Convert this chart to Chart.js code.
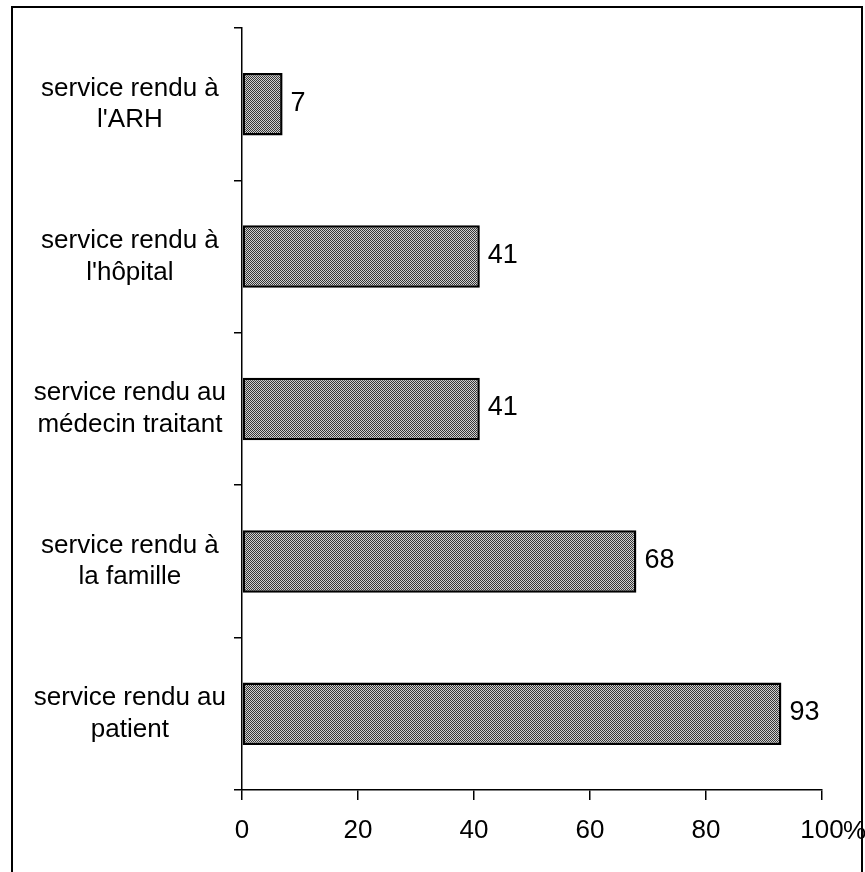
<!DOCTYPE html>
<html>
<head>
<meta charset="utf-8">
<script src="https://cdn.jsdelivr.net/npm/chart.js@4/dist/chart.umd.min.js"></script>
<style>
  html, body { margin: 0; padding: 0; background: #fff; }
  canvas { display: block; }
</style>
</head>
<body>
<canvas id="chart" width="865" height="872"></canvas>
<script>
// Services rendus (en %)
const categories = [
  ['service rendu à', "l'ARH"],
  ['service rendu à', "l'hôpital"],
  ['service rendu au', 'médecin traitant'],
  ['service rendu à', 'la famille'],
  ['service rendu au', 'patient'],
];
const values = [7, 41, 41, 68, 93];
const xTicks = [0, 20, 40, 60, 80, 100];

const FONT = '"Liberation Sans", Arial, sans-serif';

// dithered grey fill like the scanned original
function makePattern() {
  const c = document.createElement('canvas');
  c.width = 4; c.height = 4;
  const g = c.getContext('2d');
  g.fillStyle = '#d0d0d0';
  g.fillRect(0, 0, 4, 4);
  g.fillStyle = '#363636';
  for (let y = 0; y < 4; y++) {
    for (let x = 0; x < 4; x++) {
      if ((x + y) % 2 === 0) g.fillRect(x, y, 1, 1);
    }
  }
  return g.createPattern(c, 'repeat');
}

const extras = {
  id: 'extras',
  afterDraw(chart) {
    const ctx = chart.ctx;
    const meta = chart.getDatasetMeta(0);
    ctx.save();
    ctx.fillStyle = '#000';
    ctx.font = '27px ' + FONT;
    ctx.textAlign = 'left';
    ctx.textBaseline = 'middle';
    meta.data.forEach((bar, i) => {
      ctx.fillText(String(values[i]), bar.x + 8, bar.y - 1);
    });
    // "%" after the last tick label
    const xs = chart.scales.x;
    ctx.font = '26px ' + FONT;
    ctx.fillText('%', xs.getPixelForValue(100) + 21, 832);
    // frame round the figure
    ctx.strokeStyle = '#000';
    ctx.lineWidth = 2;
    ctx.strokeRect(12, 7, 850, 880);
    ctx.restore();
  },
};

new Chart(document.getElementById('chart').getContext('2d'), {
  type: 'bar',
  data: {
    labels: categories,
    datasets: [{
      data: values,
      backgroundColor: makePattern(),
      borderColor: '#000',
      borderWidth: 2.5,
      borderSkipped: false,
      barPercentage: 0.41,
      categoryPercentage: 1,
    }],
  },
  options: {
    indexAxis: 'y',
    responsive: false,
    animation: false,
    layout: { padding: { left: 0, right: 43, top: 28, bottom: 0 } },
    plugins: {
      legend: { display: false },
      tooltip: { enabled: false },
    },
    scales: {
      x: {
        min: 0, max: 100,
        afterBuildTicks: s => { s.ticks = xTicks.map(v => ({ value: v })); },
        afterFit: s => { s.height = 82; s.paddingLeft = 0; s.paddingRight = 0; },
        ticks: {
          color: '#000',
          font: { family: FONT, size: 26 },
          padding: 15,
        },
        grid: { drawOnChartArea: false, color: '#000', tickLength: 10, lineWidth: 1.5 },
        border: { color: '#000', width: 1.5 },
      },
      y: {
        afterFit: s => { s.width = 242; s.paddingTop = 0; s.paddingBottom = 0; },
        ticks: {
          color: '#000',
          crossAlign: 'center',
          padding: 8,
          font: { family: FONT, size: 26, lineHeight: 1.22 },
        },
        grid: { drawOnChartArea: false, color: '#000', tickLength: 8, lineWidth: 1.5 },
        border: { color: '#000', width: 1.5 },
      },
    },
  },
  plugins: [extras],
});
</script>
</body>
</html>
